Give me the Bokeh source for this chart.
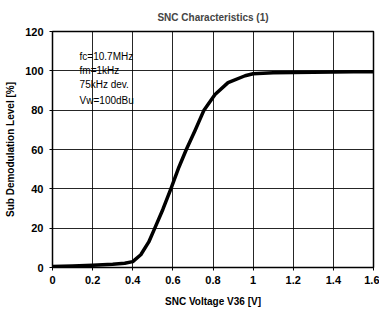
from bokeh.plotting import figure
from bokeh.models import FixedTicker, Label, Range1d
from bokeh.embed import file_html
from bokeh.resources import INLINE

voltage = [0.0, 0.1, 0.2, 0.3, 0.36, 0.4, 0.44, 0.48, 0.51, 0.55, 0.59, 0.63, 0.667, 0.71, 0.755, 0.81, 0.875, 0.96, 1.0, 1.1, 1.3, 1.5, 1.6]
level = [0.5, 0.8, 1.2, 1.7, 2.2, 3.0, 6.5, 13.0, 20.0, 29.5, 40.0, 51.0, 60.0, 69.5, 80.0, 88.0, 94.0, 97.5, 98.5, 99.0, 99.3, 99.5, 99.5]
x_ticks = [0, 0.2, 0.4, 0.6, 0.8, 1.0, 1.2, 1.4, 1.6]
x_tick_labels = ["0", "0.2", "0.4", "0.6", "0.8", "1", "1.2", "1.4", "1.6"]
y_ticks = [0, 20, 40, 60, 80, 100, 120]
notes = ["fc=10.7MHz", "fm=1kHz", "75kHz dev.", "Vw=100dBu"]
note_x = 0.135
note_y = [107.5, 100.0, 92.8, 85.0]

FONT = "Liberation Sans"

p = figure(width=379, height=309, output_backend="svg", toolbar_location=None,
           x_range=Range1d(0, 1.6), y_range=Range1d(0, 120),
           title="SNC Characteristics (1)",
           min_border_left=52, min_border_right=6, min_border_top=30, min_border_bottom=40)
p.title.align = "center"
p.title.text_font = FONT
p.title.text_font_size = "10px"
p.title.text_font_style = "bold"
p.title.offset = 0
p.title.standoff = 18

p.outline_line_color = "black"
p.outline_line_width = 1.5

p.xaxis.ticker = FixedTicker(ticks=x_ticks)
p.xaxis.major_label_overrides = {t: l for t, l in zip(x_ticks, x_tick_labels)}
p.yaxis.ticker = FixedTicker(ticks=y_ticks)
p.xaxis.axis_label = "SNC Voltage V36 [V]"
p.yaxis.axis_label = "Sub Demodulation Level [%]"
for ax in (p.xaxis, p.yaxis):
    ax.axis_line_color = "black"
    ax.major_tick_line_color = "black"
    ax.minor_tick_line_color = None
    ax.major_tick_in = 0
    ax.major_tick_out = 3
    ax.major_label_text_font = FONT
    ax.major_label_text_font_size = "11px"
    ax.major_label_text_font_style = "bold"
    ax.major_label_text_color = "black"
    ax.axis_label_text_font = FONT
    ax.axis_label_text_font_size = "10px"
    ax.axis_label_text_font_style = "bold"
    ax.axis_label_text_color = "black"
p.xaxis.major_label_standoff = 5
p.yaxis.major_label_standoff = 6
p.xaxis.axis_label_standoff = 9
p.yaxis.axis_label_standoff = 6

p.xgrid.grid_line_color = "black"
p.ygrid.grid_line_color = "black"
p.xgrid.grid_line_width = 1
p.ygrid.grid_line_width = 1
p.xgrid.grid_line_alpha = 0.85
p.ygrid.grid_line_alpha = 0.85

p.line(voltage, level, line_color="black", line_width=3.5, line_join="round", line_cap="round")

for t, yy in zip(notes, note_y):
    p.add_layout(Label(x=note_x, y=yy, text=t,
                       text_font=FONT, text_font_size="10px", text_color="black",
                       text_baseline="middle"))

html = file_html(p, INLINE)
open("out.html", "w").write(html)
